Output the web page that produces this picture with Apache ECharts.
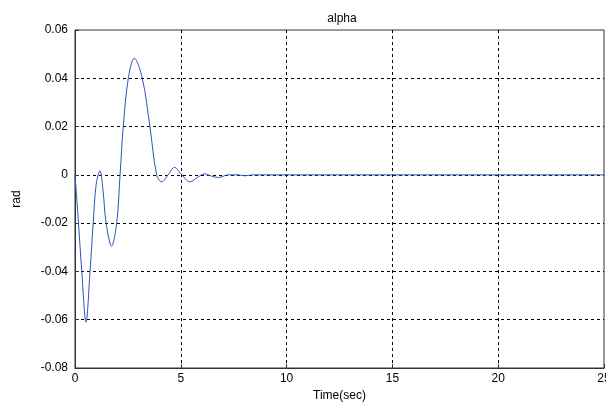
<!DOCTYPE html>
<html>
<head>
<meta charset="utf-8">
<script src="https://cdn.jsdelivr.net/npm/echarts@6/dist/echarts.min.js"></script>
<style>html,body{margin:0;padding:0;background:#fff}#c{width:606px;height:406px}</style>
</head>
<body>
<div id="c"></div>
<script>
var titleText = 'alpha';
var xName = 'Time(sec)';
var yName = 'rad';
var time  = [0.00, 0.15, 0.32, 0.52, 0.71, 0.86, 1.00, 1.18, 1.32, 1.47, 1.73, 1.97, 2.13, 2.28, 2.52, 2.80, 3.18, 3.54, 3.86, 4.10, 4.40, 4.70, 5.05, 5.42, 5.80, 6.11, 6.45, 6.77, 7.25, 7.70, 8.03, 8.40, 25.0];
var alpha = [0.000, -0.018, -0.040, -0.061, -0.040, -0.020, -0.004, 0.0017, -0.006, -0.020, -0.0295, -0.020, 0.000, 0.020, 0.040, 0.0483, 0.040, 0.020, 0.000, -0.0029, 0.000, 0.0031, 0.000, -0.0029, -0.001, 0.0004, -0.0005, -0.0011, 0.000, 0.000, -0.0004, 0.000, 0.000];
var xTicks = [0, 5, 10, 15, 20, 25];
var yTicks = ['-0.08', '-0.06', '-0.04', '-0.02', '0', '0.02', '0.04', '0.06'];

var data = time.map(function (t, i) { return [t, alpha[i]]; });
var font = 'Liberation Sans, Arial, sans-serif';
var chart = echarts.init(document.getElementById('c'), null, {renderer: 'canvas'});
chart.setOption({
  animation: false,
  backgroundColor: '#fff',
  title: {
    text: titleText, left: 337, top: 8, textAlign: 'center',
    textStyle: {fontFamily: font, fontSize: 12, fontWeight: 'normal', color: '#000'}
  },
  grid: {
    left: 75, right: 2, top: 30, bottom: 38,
    outerBoundsMode: 'none', containLabel: false,
    show: true, borderColor: '#333', borderWidth: 1, backgroundColor: '#fff'
  },
  xAxis: {
    type: 'value', min: xTicks[0], max: xTicks[xTicks.length - 1], interval: 5,
    name: xName, nameLocation: 'middle', nameGap: 21,
    nameTextStyle: {fontFamily: font, fontSize: 12, color: '#000'},
    axisLine: {show: true, onZero: false, lineStyle: {color: '#333', width: 1}},
    axisTick: {show: true, inside: true, length: 4, lineStyle: {color: '#333'}},
    axisLabel: {fontFamily: font, fontSize: 12, color: '#000', margin: 5,
      formatter: function (v) { return String(Math.round(v)); }},
    splitLine: {show: true, showMinLine: false, showMaxLine: false,
      lineStyle: {color: '#000', type: [3, 3], width: 1}}
  },
  yAxis: {
    type: 'value', min: -0.08, max: 0.06, interval: 0.02,
    name: yName, nameLocation: 'middle', nameGap: 52, nameRotate: 90,
    nameTextStyle: {fontFamily: font, fontSize: 12, color: '#000'},
    axisLine: {show: true, onZero: false, lineStyle: {color: '#333', width: 1}},
    axisTick: {show: true, inside: true, length: 4, lineStyle: {color: '#333'}},
    axisLabel: {fontFamily: font, fontSize: 12, color: '#000', margin: 7,
      formatter: function (v) {
        var idx = Math.round((v + 0.08) / 0.02);
        return yTicks[idx];
      }},
    splitLine: {show: true, showMinLine: false, showMaxLine: false,
      lineStyle: {color: '#000', type: [3, 3], width: 1}}
  },
  series: [{
    type: 'line', data: data, showSymbol: false, smooth: 0.35,
    lineStyle: {color: '#2f54b8', width: 1},
    z: 5
  }]
});
</script>
</body>
</html>
